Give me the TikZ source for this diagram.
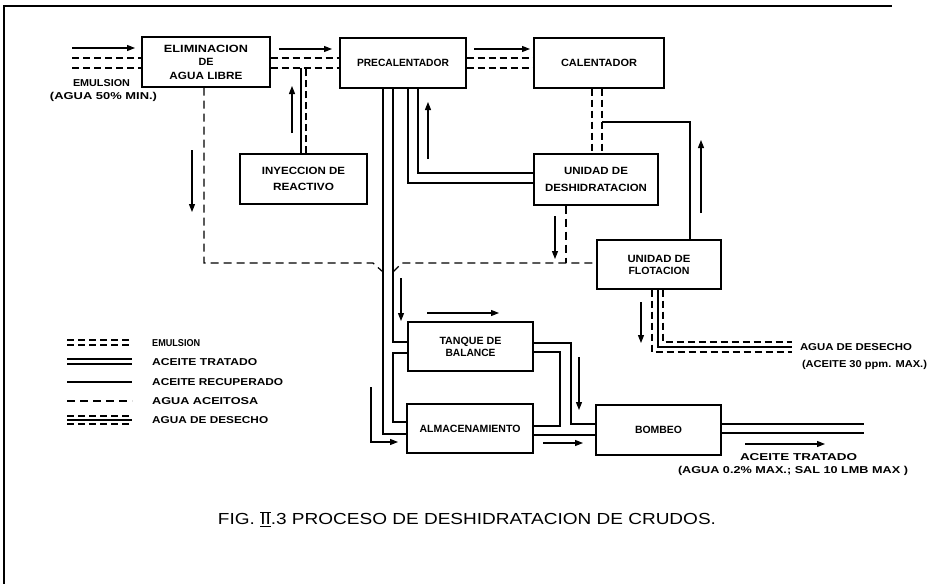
\documentclass[tikz,border=0pt]{standalone}
\usepackage{fontspec}
\setmainfont{Liberation Sans}
\usetikzlibrary{arrows.meta,calc}
\newcommand{\W}[2]{\resizebox{#1pt}{\height}{#2}}
\tikzset{
 box/.style={draw, line width=1.3pt, inner sep=0pt, font=\bfseries\fontsize{10.5}{13.5}\selectfont, align=center},
 pipe/.style={line width=1.2pt},
 emul/.style={line width=1.2pt, dash pattern=on 7pt off 4pt},
 aceitosa/.style={line width=1.2pt, dash pattern=on 8pt off 5pt},
 flow/.style={line width=1.1pt, -{Triangle[length=8pt,width=6pt]}},
 lbl/.style={inner sep=0pt, font=\bfseries\fontsize{10}{12}\selectfont},
 captionstyle/.style={inner sep=0pt, font=\fontsize{16}{18}\selectfont},
}
\begin{document}
\begin{tikzpicture}[x=1pt,y=-1pt]
\useasboundingbox (0,0) rectangle (938,584);
\draw[line width=1.2pt] (4,584) -- (4,6) -- (892,6);

% boxes
\node[box, minimum width=128, minimum height=50] (elim) at (206,62) {\W{84}{ELIMINACION}\\\W{15}{DE}\\\W{73}{AGUA LIBRE}};
\node[box, minimum width=126, minimum height=50] (pre) at (403,63) {\W{92}{PRECALENTADOR}};
\node[box, minimum width=130, minimum height=50] (cal) at (599,63) {\W{76}{CALENTADOR}};
\node[box, minimum width=127, minimum height=50] (iny) at (303.5,179) {\W{83}{INYECCION DE}\\[2.5pt]\W{61}{REACTIVO}};
\node[box, minimum width=124, minimum height=51] (des) at (596,179.5) {\W{64}{UNIDAD DE}\\[3.5pt]\W{102}{DESHIDRATACION}};
\node[box, minimum width=124, minimum height=49] (flo) at (659,264.5) {\W{63}{UNIDAD DE}\\[-1.5pt]\W{61}{FLOTACION}};
\node[box, minimum width=125, minimum height=49] (tan) at (470.5,346.5) {\W{62}{TANQUE DE}\\[-1.5pt]\W{50}{BALANCE}};
\node[box, minimum width=126, minimum height=49] (alm) at (470,428.5) {\W{101}{ALMACENAMIENTO}};
\node[box, minimum width=125, minimum height=50] (bom) at (658.5,430) {\W{47}{BOMBEO}};

% labels
\node[lbl] (t1) at (101.5,83) {\W{57}{EMULSION}};
\node[lbl] (t2) at (103.5,97) {\W{107}{(AGUA 50\% MIN.)}};
\node[lbl] (t3) at (856,347) {\W{112}{AGUA DE DESECHO}};
\node[lbl] (t4) at (864.5,365) {\W{125}{(ACEITE 30 ppm. MAX.)}};
\node[lbl] (t5) at (798.5,457) {\W{117}{ACEITE TRATADO}};
\node[lbl] (t6) at (793,471) {\W{230}{(AGUA 0.2\% MAX.; SAL 10 LMB MAX )}};

% legend
\node[lbl, anchor=west] (l1) at (152,343) {\W{48}{EMULSION}};
\node[lbl, anchor=west] (l2) at (152,362) {\W{105}{ACEITE TRATADO}};
\node[lbl, anchor=west] (l3) at (152,382) {\W{131}{ACEITE RECUPERADO}};
\node[lbl, anchor=west] (l4) at (152,401) {\W{106}{AGUA ACEITOSA}};
\node[lbl, anchor=west] (l5) at (152,420) {\W{116}{AGUA DE DESECHO}};
\draw[emul] (67,340) -- (132,340);
\draw[emul] (67,345) -- (132,345);
\draw[pipe] (67,359) -- (132,359);
\draw[pipe] (67,364) -- (132,364);
\draw[pipe] (67,382) -- (132,382);
\draw[aceitosa] (67,401) -- (132,401);
\draw[emul] (67,416) -- (132,416);
\draw[pipe] (67,420) -- (132,420);
\draw[emul] (67,424) -- (132,424);

% caption
\node[captionstyle] (capt) at (467,519) {\W{498}{FIG. $\overline{\underline{\hbox{II}}}$.3 PROCESO DE DESHIDRATACION DE CRUDOS.}};

% emulsion lines
\draw[emul] (72,58) -- (elim.west |- 0,58);
\draw[emul] (72,68) -- (elim.west |- 0,68);
\draw[emul] (elim.east |- 0,58) -- (pre.west |- 0,58);
\draw[emul] (elim.east |- 0,68) -- (pre.west |- 0,68);
\draw[emul] (pre.east |- 0,58) -- (cal.west |- 0,58);
\draw[emul] (pre.east |- 0,68) -- (cal.west |- 0,68);
% reactivo
\draw[pipe] (iny.north -| 301,0) -- (301,68);
\draw[emul] (iny.north -| 306,0) -- (306,68);
% agua aceitosa
\draw[aceitosa] (elim.south -| 204,0) -- (204,263) -- (373,263) -- (383,272);
\draw[aceitosa] (393,272) -- (402,263) -- (flo.west |- 0,263);
\draw[aceitosa] (des.south -| 566,0) -- (566,263);
% precalentador bottom
\draw[pipe] (pre.south -| 383,0) -- (383,434) -- (alm.west |- 0,434);
\draw[pipe] (pre.south -| 393,0) -- (393,342) -- (tan.west |- 0,342);
\draw[pipe] (tan.west |- 0,353) -- (393,353) -- (393,422) -- (alm.west |- 0,422);
\draw[pipe] (pre.south -| 408,0) -- (408,183) -- (des.west |- 0,183);
\draw[pipe] (pre.south -| 418,0) -- (418,173) -- (des.west |- 0,173);
% tanque right
\draw[pipe] (tan.east |- 0,343) -- (571,343) -- (571,424) -- (bom.west |- 0,424);
\draw[pipe] (tan.east |- 0,352) -- (560,352) -- (560,426) -- (alm.east |- 0,426);
\draw[pipe] (alm.east |- 0,435) -- (bom.west |- 0,435);
% bombeo out
\draw[pipe] (bom.east |- 0,424) -- (864,424);
\draw[pipe] (bom.east |- 0,433) -- (864,433);
% calentador - deshidratacion
\draw[emul] (cal.south -| 592,0) -- (des.north -| 592,0);
\draw[emul] (cal.south -| 602,0) -- (des.north -| 602,0);
\draw[pipe] (flo.north -| 690,0) -- (690,122) -- (602,122);
% flotacion desecho
\draw[emul] (flo.south -| 663,0) -- (663,342) -- (792,342);
\draw[pipe] (flo.south -| 658,0) -- (658,347) -- (792,347);
\draw[emul] (flo.south -| 652,0) -- (652,352) -- (792,352);

% flow arrows
\draw[flow] (72,48) -- (135,48);
\draw[flow] (279,49) -- (332,49);
\draw[flow] (474,49) -- (530,49);
\draw[flow] (292,133) -- (292,86);
\draw[flow] (192,150) -- (192,212);
\draw[flow] (428,159) -- (428,102);
\draw[flow] (701,213) -- (701,140);
\draw[flow] (555,216) -- (555,259);
\draw[flow] (401,278) -- (401,321);
\draw[flow] (427,313) -- (499,313);
\draw[flow] (371,387) -- (371,442) -- (398,442);
\draw[flow] (579,357) -- (579,410);
\draw[flow] (543,443) -- (583,443);
\draw[flow] (745,444) -- (825,444);
\draw[flow] (641,302) -- (641,343);
\end{tikzpicture}
\end{document}
